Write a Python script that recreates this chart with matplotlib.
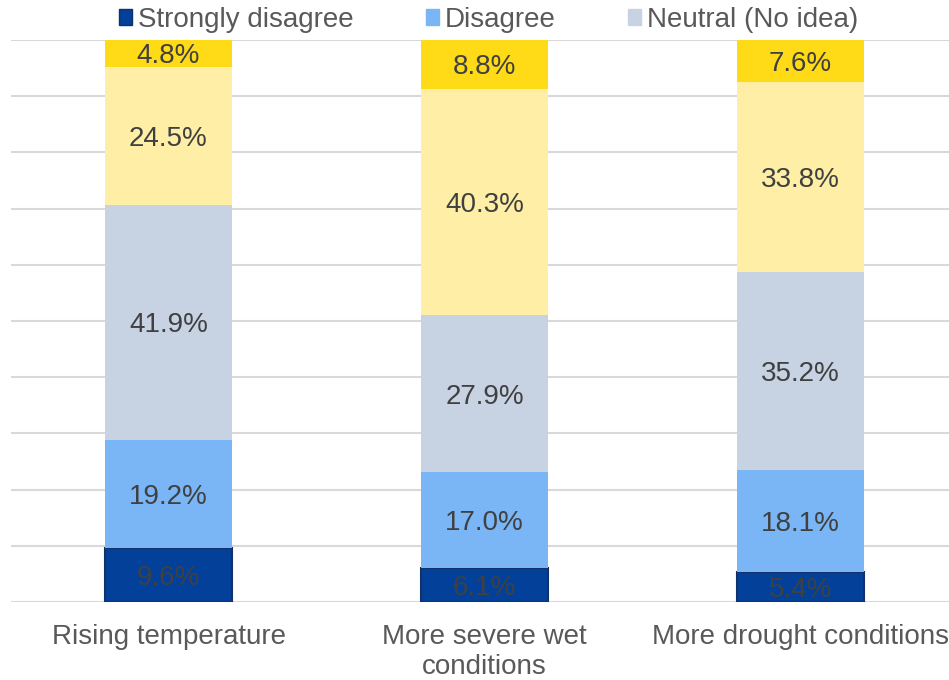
import matplotlib.pyplot as plt
import matplotlib.transforms as mtransforms
import numpy as np
from matplotlib.patches import Patch

plt.rcParams['font.family'] = ['Liberation Sans', 'DejaVu Sans']

# Survey responses (% of respondents) per perceived climate change
categories = ["Rising temperature", "More severe wet\nconditions", "More drought conditions"]
responses = ["Strongly disagree", "Disagree", "Neutral (No idea)", "Agree", "Strongly agree"]
strongly_disagree = [9.6, 6.1, 5.4]
disagree = [19.2, 17.0, 18.1]
neutral = [41.9, 27.9, 35.2]
agree = [24.5, 40.3, 33.8]
strongly_agree = [4.8, 8.8, 7.6]

colors = ["#03409A", "#7AB6F5", "#C7D2E3", "#FEEEA6", "#FFDA17"]
edges = ["#12306A", "none", "none", "none", "none"]

fig = plt.figure(figsize=(9.49, 6.8), dpi=100)
ax = fig.add_axes([10.5 / 949, 78 / 680, 948 / 949, 562 / 680])

# nudge the data labels a few pixels below the segment centre
label_tf = ax.transData + mtransforms.ScaledTranslation(0, -3 / 100, fig.dpi_scale_trans)

x = np.arange(len(categories))
series = [strongly_disagree, disagree, neutral, agree, strongly_agree]
bottom = np.zeros(len(categories))
for vals, col, ec, name in zip(series, colors, edges, responses):
    vals = np.array(vals)
    ax.bar(x, vals, width=0.40, bottom=bottom, color=col, edgecolor=ec,
           linewidth=1.5 if ec != "none" else 0, label=name, zorder=3)
    for xi, b, v in zip(x, bottom, vals):
        ax.text(xi, b + v / 2, f"{v:.1f}%", ha="center", va="center",
                fontsize=20, color="#404040", zorder=4, transform=label_tf)
    bottom += vals

ax.set_xlim(-0.5, 2.5)
ax.set_ylim(0, 100)
ax.set_yticks(np.arange(0, 101, 10))
ax.yaxis.grid(True, color="#D9D9D9", linewidth=1.5, zorder=0)
ax.tick_params(axis="y", left=False, labelleft=False)
ax.tick_params(axis="x", bottom=False, pad=12)
ax.set_xticks(x)
ax.set_xticklabels(categories, fontsize=20, color="#595959", linespacing=1.2)
for s in ax.spines.values():
    s.set_visible(False)

handles = [Patch(facecolor=c, edgecolor=e if e != "none" else c, linewidth=1)
           for c, e in zip(colors[:3], edges[:3])]
fig.legend(handles, responses[:3], loc="center left", bbox_to_anchor=(119 / 949, 1 - 20 / 680),
           ncol=3, frameon=False, fontsize=20, labelcolor="#595959",
           handlelength=0.47, handleheight=0.47, handletextpad=0.22,
           columnspacing=2.6, borderaxespad=0, borderpad=0)

fig.savefig("out.png", dpi=100)
